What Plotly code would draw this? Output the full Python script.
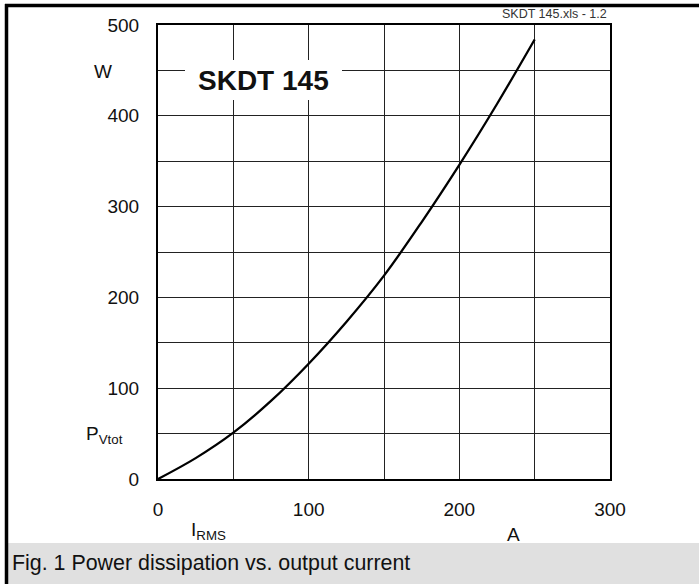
import plotly.graph_objects as go

# Data
i_rms = [0, 25, 50, 75, 100, 125, 150, 175, 200, 225, 250]
p_vtot = [0, 23, 51, 86, 127, 173, 224, 283, 346, 413, 484]
x_ticks = [0, 100, 200, 300]
y_ticks = [0, 100, 200, 300, 400, 500]

W, H = 699, 584
L, R, T, B = 158, 610, 25, 479
FONT = "Liberation Sans, Arial, sans-serif"

def px(x):
    return (x - L) / (R - L)

def py(y):
    return (B - y) / (B - T)

fig = go.Figure()
fig.add_trace(go.Scatter(x=i_rms, y=p_vtot, mode="lines", line=dict(color="black", width=2.3, shape="spline"),
                         hoverinfo="skip", showlegend=False))

axis_common = dict(showgrid=True, gridcolor="#222", gridwidth=1.2, zeroline=False,
                   showline=True, linecolor="black", linewidth=2, mirror=True,
                   tickfont=dict(family=FONT, size=19, color="#111"),
                   ticks="outside", tickcolor="rgba(0,0,0,0)", fixedrange=True,
                   minor=dict(dtick=50, showgrid=True, gridcolor="#222", gridwidth=1.2))

fig.update_layout(
    width=W, height=H,
    margin=dict(l=L, r=W - R, t=T, b=H - B),
    paper_bgcolor="white", plot_bgcolor="white",
    font=dict(family=FONT, color="#111"),
    xaxis=dict(range=[0, 300], tickvals=x_ticks, ticklen=12, **axis_common),
    yaxis=dict(range=[0, 500], tickvals=y_ticks, ticklen=13, **axis_common),
    showlegend=False,
)

shapes = [
    # caption gray box
    dict(type="rect", xref="paper", yref="paper", x0=px(7), x1=px(700), y0=py(543), y1=py(585),
         fillcolor="#e0e0e0", line=dict(width=0), layer="below"),
    # frame top
    dict(type="line", xref="paper", yref="paper", x0=px(5), x1=px(700), y0=py(5.5), y1=py(5.5),
         line=dict(color="black", width=3.5)),
    # frame left
    dict(type="line", xref="paper", yref="paper", x0=px(6.5), x1=px(6.5), y0=py(4), y1=py(585),
         line=dict(color="black", width=3.5)),
    # white box behind title
    dict(type="rect", xref="paper", yref="paper", x0=px(185), x1=px(342), y0=py(100), y1=py(60),
         fillcolor="white", line=dict(width=0), layer="above"),
]
fig.update_layout(shapes=shapes)

ann = [
    dict(text="<b>SKDT 145</b>", x=px(263.5), y=py(80), font=dict(size=28, family=FONT, color="#111")),
    dict(text="W", x=px(103), y=py(71), font=dict(size=19, family=FONT)),
    dict(text="P<sub>Vtot</sub>", x=px(84), y=py(435), xanchor="left", font=dict(size=19, family=FONT)),
    dict(text="I<sub>RMS</sub>", x=px(189), y=py(531), xanchor="left", font=dict(size=19, family=FONT)),
    dict(text="A", x=px(513), y=py(534), font=dict(size=19, family=FONT)),
    dict(text="SKDT 145.xls - 1.2", x=px(609), y=py(14), xanchor="right", font=dict(size=12.5, family=FONT, color="#333")),
    dict(text="Fig. 1 Power dissipation vs. output current", x=px(10), y=py(563), xanchor="left",
         font=dict(size=21.4, family=FONT, color="#111")),
]
for a in ann:
    a.setdefault("xanchor", "center")
    a.update(xref="paper", yref="paper", yanchor="middle", showarrow=False)
fig.update_layout(annotations=ann)

fig.write_html("out.html", config={"displayModeBar": False},
               post_script="document.body.style.margin='0';document.body.style.overflow='hidden';")
